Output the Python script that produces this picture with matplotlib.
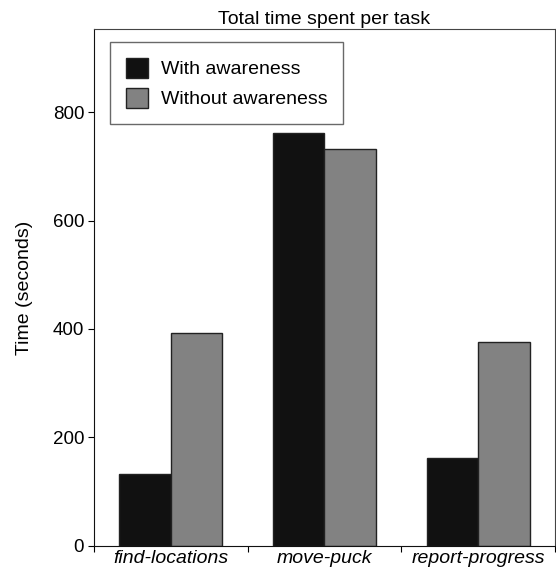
import matplotlib
matplotlib.use("Agg")
import matplotlib.pyplot as plt
import numpy as np

tasks = ["find-locations", "move-puck", "report-progress"]
with_awareness = [133, 761, 162]
without_awareness = [392, 732, 376]

plt.rcParams["font.family"] = ["Liberation Sans", "DejaVu Sans"]

fig = plt.figure(figsize=(5.56, 5.73), dpi=100)
ax = fig.add_axes([0.169, 0.0476, 0.829, 0.9014])

x = np.arange(len(tasks)) + 0.5
w = 0.335
ax.bar(x - w / 2, with_awareness, w, color="#111111", edgecolor="#222222",
       linewidth=1, label="With awareness")
ax.bar(x + w / 2, without_awareness, w, color="#828282", edgecolor="#222222",
       linewidth=1, label="Without awareness")

ax.set_xlim(0, 3)
ax.set_ylim(0, 953)
ax.set_xticks([0, 1, 2, 3])
ax.set_xticklabels([])
ax.set_xticks(x, minor=True)
ax.set_xticklabels(tasks, minor=True, fontstyle="italic", fontsize=14)
ax.tick_params(axis="x", which="minor", length=0, pad=3)
ax.tick_params(axis="x", which="major", length=4, direction="out")
ax.set_yticks([0, 200, 400, 600, 800])
ax.tick_params(axis="y", labelsize=13.5, length=4, direction="out", pad=3)
ax.set_ylabel("Time (seconds)", fontsize=14, labelpad=14)
ax.set_title("Total time spent per task", fontsize=14, pad=4)

for s in ["top", "right"]:
    ax.spines[s].set_color("#444444")
for s in ["left", "bottom"]:
    ax.spines[s].set_color("#111111")

leg = ax.legend(loc="upper left", bbox_to_anchor=(0.035, 0.975), fontsize=14,
                frameon=True, fancybox=False, edgecolor="#444444",
                handlelength=1.13, handleheight=1.2, borderpad=0.8,
                labelspacing=0.5, handletextpad=0.7, borderaxespad=0)
leg.get_frame().set_linewidth(1)

fig.savefig("out.png", dpi=100)
